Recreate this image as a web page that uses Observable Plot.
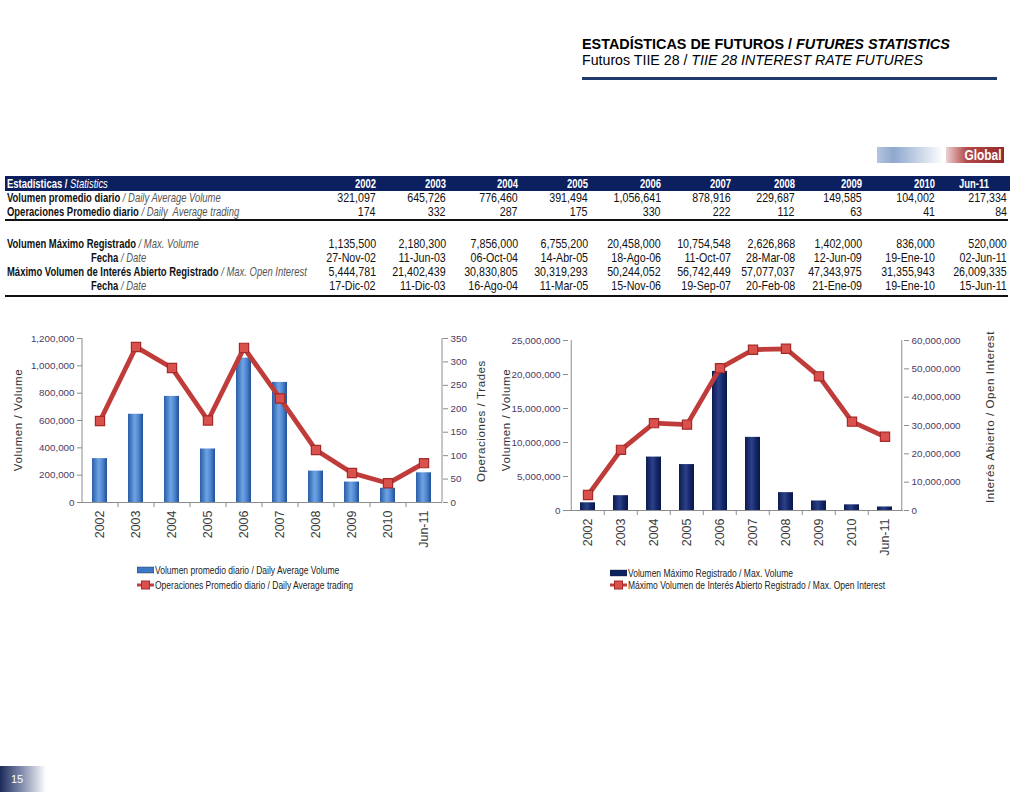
<!DOCTYPE html>
<html><head><meta charset="utf-8">
<script src="https://cdn.jsdelivr.net/npm/d3@7"></script>
<script src="https://cdn.jsdelivr.net/npm/@observablehq/plot@0.6"></script>
<style>
body{margin:0;background:#fff;font-family:Arial,"Liberation Sans",sans-serif;}
#page{position:relative;width:1024px;height:792px;overflow:hidden;background:#fff;}
.abs{position:absolute;white-space:nowrap;}
.t1{left:582px;top:36px;font-size:14.4px;font-weight:bold;color:#000;}
.t2{left:582px;top:52px;font-size:14.2px;color:#000;}
.hline{left:582px;top:77px;width:415px;height:3px;background:#1f3a6b;}
.cell{position:absolute;font-size:13.5px;line-height:14px;color:#111;white-space:nowrap;}
.cell i{color:#555;font-weight:normal;}
.hdr{color:#fff;font-weight:bold;}
.hdr i{color:#fff;}
.ytitle{position:absolute;font-size:11.5px;color:#333;letter-spacing:0.6px;transform:translate(-50%,-50%) rotate(-90deg);white-space:nowrap;}
.leg{position:absolute;font-size:10.5px;color:#222;white-space:nowrap;line-height:12px;}
.leg span{display:inline-block;transform:scaleX(0.81);transform-origin:left center;vertical-align:middle;}
</style></head><body><div id="page"></div>
<script>
// ---------- data ----------
const years = ["2002","2003","2004","2005","2006","2007","2008","2009","2010","Jun-11"];
const avgVolume = [321097,645726,776460,391494,1056641,878916,229687,149585,104002,217334];
const avgTrades = [174,332,287,175,330,222,112,63,41,84];
const maxVolume = [1135500,2180300,7856000,6755200,20458000,10754548,2626868,1402000,836000,520000];
const maxVolumeDate = ["27-Nov-02","11-Jun-03","06-Oct-04","14-Abr-05","18-Ago-06","11-Oct-07","28-Mar-08","12-Jun-09","19-Ene-10","02-Jun-11"];
const maxOpenInterest = [5444781,21402439,30830805,30319293,50244052,56742449,57077037,47343975,31355943,26009335];
const maxOpenInterestDate = ["17-Dic-02","11-Dic-03","16-Ago-04","11-Mar-05","15-Nov-06","19-Sep-07","20-Feb-08","21-Ene-09","19-Ene-10","15-Jun-11"];
const volTicks1 = [0,200000,400000,600000,800000,1000000,1200000];
const tradeTicks1 = [0,50,100,150,200,250,300,350];
const volTicks2 = [0,5000000,10000000,15000000,20000000,25000000];
const oiTicks2 = [0,10000000,20000000,30000000,40000000,50000000,60000000];

const page = document.getElementById("page");
const fmt = d3.format(",");
function add(html, cls, style){const d=document.createElement("div");d.className=cls;if(style)d.style.cssText=style;d.innerHTML=html;page.appendChild(d);return d;}

// ---------- header ----------
add("ESTADÍSTICAS DE FUTUROS / <i>FUTURES STATISTICS</i>","abs t1");
add("Futuros TIIE 28 / <i>TIIE 28 INTEREST RATE FUTURES</i>","abs t2");
add("","abs hline");
// Global badge
add("","abs","left:877px;top:147px;width:66px;height:16px;background:linear-gradient(to right,#b3c5df 0%,#8ea8ce 25%,#c9d6e8 65%,#ffffff 100%);");
add("","abs","left:946px;top:147px;width:58px;height:16px;background:linear-gradient(to right,#ecd2d2 0%,#b24a4a 35%,#962828 100%);");
add("Global","abs","left:946px;top:147px;width:58px;height:16px;color:#fff;font-weight:bold;font-size:14px;line-height:16px;text-align:right;box-sizing:border-box;padding-right:3px;transform:scaleX(0.85);transform-origin:right center;");

// ---------- table ----------
const colRight = [376,446,518,588,661,731,795,862,935,1007];
add("","abs","left:5px;top:176px;width:1005px;height:15px;background:#0c2060;");
add("","abs","left:5px;top:219px;width:1003px;height:2px;background:#111;");
add("","abs","left:5px;top:295px;width:1003px;height:2px;background:#111;");
function row(label, labelLeft, values, top, hdr){
  add(label,"cell"+(hdr?" hdr":""),`left:${labelLeft}px;top:${top}px;font-weight:bold;transform:scaleX(0.70);transform-origin:left center;`);
  values.forEach((v,i)=>{
    const last = hdr && i===values.length-1;
    const sc = hdr ? 0.70 : 0.79;
    add(v,"cell"+(hdr?" hdr":""),last
      ? `left:959px;top:${top}px;transform:scaleX(${sc});transform-origin:left center;`
      : `right:${1024-colRight[i]}px;top:${top}px;text-align:right;transform:scaleX(${sc});transform-origin:right center;`+(hdr?"":"font-weight:normal;"));
  });
}
row("Estadísticas / <i>Statistics</i>",7,years,177,true);
row("Volumen promedio diario <i>/ Daily Average Volume</i>",7,avgVolume.map(fmt),191);
row("Operaciones Promedio diario <i>/ Daily&nbsp; Average trading</i>",7,avgTrades.map(fmt),205);
row("Volumen Máximo Registrado <i>/ Max. Volume</i>",7,maxVolume.map(fmt),237);
row("Fecha <i>/ Date</i>",91,maxVolumeDate,251);
row("Máximo Volumen de Interés Abierto Registrado <i>/ Max. Open Interest</i>",7,maxOpenInterest.map(fmt),265);
row("Fecha <i>/ Date</i>",91,maxOpenInterestDate,279);

// ---------- charts ----------
function dualChart(o){
  const k = o.leftMax / o.rightMax;
  const data = years.map((y,i)=>({year:y, bar:o.bars[i], line:o.line[i]}));
  const step = (o.width - o.marginLeft - o.marginRight)/years.length;
  const plot = Plot.plot({
    width:o.width, height:o.height,
    marginLeft:o.marginLeft, marginRight:o.marginRight, marginTop:o.marginTop, marginBottom:o.marginBottom,
    style:{background:"transparent", fontFamily:"Arial,'Liberation Sans',sans-serif", fontSize:"9.8px", overflow:"visible"},
    x:{domain:years, paddingInner:o.pad, paddingOuter:o.pad/2, label:null},
    y:{domain:[0,o.leftMax], label:null},
    marks:[
      Plot.barY(data,{x:"year", y:"bar", fill:`url(#${o.gradId})`}),
      Plot.ruleY([0],{stroke:"#8c8c8c"}),
      Plot.ruleX([years[0]],{dx:-step/2, y1:0, y2:o.leftMax, stroke:"#8c8c8c"}),
      Plot.ruleX([years[years.length-1]],{dx:step/2, y1:0, y2:o.leftMax, stroke:"#8c8c8c"}),
      Plot.ruleX(years.slice(1),{dx:-step/2, y1:0, y2:0, insetBottom:-5, stroke:"#8c8c8c"}),
      Plot.axisY(o.leftTicks,{anchor:"left", tickFormat:fmt, tickSize:5, tickPadding:3, stroke:"#8c8c8c", fill:"#4b3a64", label:null}),
      Plot.axisY(o.rightTicks.map(v=>v*k),{anchor:"right", tickFormat:d=>fmt(Math.round(d/k)), tickSize:5, tickPadding:3, stroke:"#8c8c8c", fill:"#4b3a64", label:null}),
      Plot.axisX({tickSize:0, tickRotate:-90, tickPadding:o.xPad, fill:"#3a3a3a", fontSize:"12.5px", label:null}),
      Plot.line(data,{x:"year", y:d=>d.line*k, stroke:"#c03c3a", strokeWidth:4.8}),
      Plot.dot(data,{x:"year", y:d=>d.line*k, symbol:"square", r:5.2, fill:"#d9504c", stroke:"#a52a28", strokeWidth:1.2})
    ]
  });
  const svg = d3.select(plot);
  const defs = svg.insert("defs",":first-child");
  const g = defs.append("linearGradient").attr("id",o.gradId).attr("x1",0).attr("x2",1).attr("y1",0).attr("y2",0);
  o.stops.forEach(([off,c])=>g.append("stop").attr("offset",off).attr("stop-color",c));
  plot.style.position="absolute";
  plot.style.left=o.left+"px";
  plot.style.top=o.top+"px";
  page.appendChild(plot);
}

dualChart({left:0, top:325, width:490, height:235, marginLeft:82, marginRight:48, marginTop:13, marginBottom:58,
  bars:avgVolume, line:avgTrades, leftMax:1200000, rightMax:350, leftTicks:volTicks1, rightTicks:tradeTicks1,
  pad:0.58, xPad:8, gradId:"gBlue",
  stops:[["0","#2a5da8"],["0.45","#6ea4e4"],["0.7","#4f86d0"],["1","#1f4f96"]]});

dualChart({left:480, top:325, width:544, height:240, marginLeft:88, marginRight:121, marginTop:15, marginBottom:55,
  bars:maxVolume, line:maxOpenInterest, leftMax:25000000, rightMax:60000000, leftTicks:volTicks2, rightTicks:oiTicks2,
  pad:0.56, xPad:8, gradId:"gNavy",
  stops:[["0","#0a1a52"],["0.45","#2c4188"],["0.7","#15286a"],["1","#081649"]]});

// axis titles
add("Volumen / Volume","ytitle","left:18px;top:420px;");
add("Operaciones / Trades","ytitle","left:481px;top:421px;");
add("Volumen / Volume","ytitle","left:506px;top:420px;");
add("Interés Abierto / Open Interest","ytitle","left:990px;top:417px;");

// legends
function legend(x, y, text, type, color){
  const d = document.createElement("div");
  d.className="leg";
  d.style.cssText=`left:${x}px;top:${y-6}px;`;
  const sw = type==="bar"
    ? `<svg width="17" height="8" style="vertical-align:middle;margin-right:1px"><rect x="0" y="1" width="17" height="6" fill="${color}" stroke="#123" stroke-width="0.4"/></svg>`
    : `<svg width="17" height="10" style="vertical-align:middle;margin-right:1px"><line x1="0" x2="17" y1="5" y2="5" stroke="#c03c3a" stroke-width="3"/><rect x="4.5" y="1" width="8" height="8" fill="#d9504c" stroke="#a52a28"/></svg>`;
  d.innerHTML = sw + "<span>" + text + "</span>";
  page.appendChild(d);
}
legend(137,569,"Volumen promedio diario / Daily Average Volume","bar","#3d78c8");
legend(137,584,"Operaciones Promedio diario / Daily Average trading","line");
legend(610,572,"Volumen Máximo Registrado / Max. Volume","bar","#0e2160");
legend(610,584,"Máximo Volumen de Interés Abierto Registrado / Max. Open Interest","line");

// page number
add("15","abs","left:0;top:766px;width:46px;height:26px;background:linear-gradient(to right,#1d2b5a 0%,#7d88aa 45%,#ffffff 100%);color:#fff;font-size:11px;line-height:26px;padding-left:11px;box-sizing:border-box;");
</script>
</body></html>
